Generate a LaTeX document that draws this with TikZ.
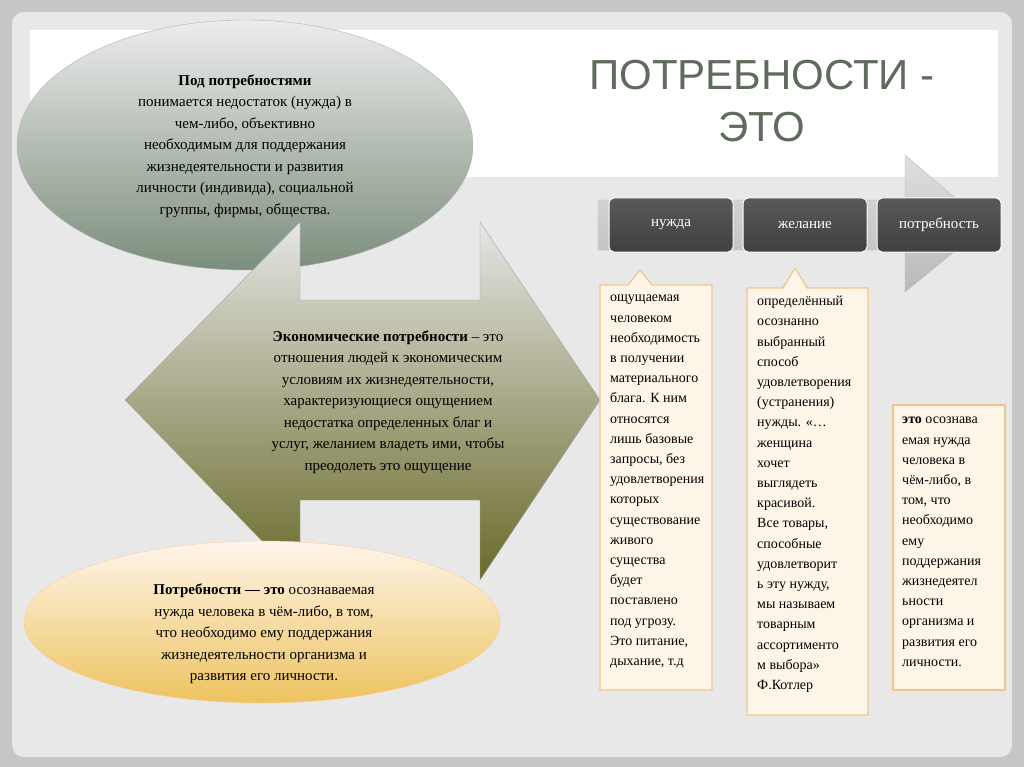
\documentclass[tikz,border=0pt]{standalone}
\usepackage{fontspec}
\setmainfont{Liberation Serif}
\newfontfamily\titlefont{Liberation Sans}
\usetikzlibrary{shapes.geometric}
\definecolor{ttl}{HTML}{5F6B5C}
\definecolor{cream}{HTML}{FDF6E8}
\definecolor{cbord}{HTML}{EFC68A}
\tikzset{x=1pt,y=-1pt,
 callout/.style={fill=cream,draw=cbord,line width=1.2pt},
 darkbox/.style={rounded corners=5pt,draw=white,line width=1pt,top color=gray!70!black,bottom color=black!75,minimum width=124pt,minimum height=54pt,text=white,font=\fontsize{15}{18}\selectfont},
 ctext/.style={align=left,anchor=north west,font=\fontsize{14}{20.2}\selectfont,inner sep=0pt}}
\begin{document}
\begin{tikzpicture}
\useasboundingbox (0,0) rectangle (1024,767);
\fill[gray!45] (0,0) rectangle (1024,767);
\fill[rounded corners=12pt,gray!18] (12,12) rectangle (1012,757);
\fill[white] (30,30) rectangle (998,177);
\node[font=\titlefont\fontsize{42}{52}\selectfont,text=ttl,align=center] (title) at (762,101) {ПОТРЕБНОСТИ -\\ЭТО};
% top ellipse
\node[ellipse,minimum width=456pt,minimum height=250pt,draw=gray!60,top color=gray!15,bottom color=gray!70!green!40!black!60,inner sep=0pt] (e1) at (245,145) {};
\node[align=center,font=\fontsize{15}{21.5}\selectfont] (t1) at (245,146) {\textbf{Под потребностями}\\понимается недостаток (нужда) в\\чем-либо, объективно\\необходимым для поддержания\\жизнедеятельности и развития\\личности (индивида), социальной\\группы, фирмы, общества.};
% double arrow
\path[draw=gray!70,top color=gray!20,bottom color=gray!60!olive!70!black!90,shading angle=0]
 (125,400) -- (300,222) -- (300,300) -- (480,300) -- (480,222) -- (600,400) -- (480,580) -- (480,500) -- (300,500) -- (300,580) -- cycle;
\node[align=center,font=\fontsize{15}{21.5}\selectfont] (t2) at (388,402) {\textbf{Экономические потребности} -- это\\отношения людей к экономическим\\условиям их жизнедеятельности,\\характеризующиеся ощущением\\недостатка определенных благ и\\услуг, желанием владеть ими, чтобы\\преодолеть это ощущение};
% bottom ellipse
\node[ellipse,minimum width=476pt,minimum height=162pt,draw=orange!40,top color=orange!8,bottom color=orange!45!yellow!60!brown!70,inner sep=0pt] (e2) at (262,622) {};
\node[align=center,font=\fontsize{15}{21.5}\selectfont] (t3) at (264,634) {\textbf{Потребности — это} осознаваемая\\нужда человека в чём-либо, в том,\\что необходимо ему поддержания\\жизнедеятельности организма и\\развития его личности.};
% chevron arrow
\path[top color=gray!25,bottom color=gray!55,draw=gray!50] (598,200) -- (905,200) -- (905,155) -- (987,225) -- (905,292) -- (905,250) -- (598,250) -- cycle;
\node[darkbox] (n1) at (671,225) {нужда};
\node[darkbox] (n2) at (805,225) {желание};
\node[darkbox] (n3) at (939,225) {потребность};
% callouts
\draw[callout] (600,285) -- (628,285) -- (640,270) -- (652,285) -- (712,285) -- (712,690) -- (600,690) -- cycle;
\node[ctext] (c1) at (610,295) {ощущаемая\\человеком\\необходимость\\в получении\\материального\\блага. К ним\\относятся\\лишь базовые\\запросы, без\\удовлетворения\\которых\\существование\\живого\\существа\\будет\\поставлено\\под угрозу.\\Это питание,\\дыхание, т.д};
\draw[callout] (747,288) -- (783,288) -- (795,268) -- (807,288) -- (868,288) -- (868,715) -- (747,715) -- cycle;
\node[ctext] (c2) at (757,296) {определённый\\осознанно\\выбранный\\способ\\удовлетворения\\(устранения)\\нужды. «…\\женщина\\хочет\\выглядеть\\красивой.\\Все товары,\\способные\\удовлетворит\\ь эту нужду,\\мы называем\\товарным\\ассортименто\\м выбора»\\Ф.Котлер};
\draw[callout] (893,405) rectangle (1005,690);
\node[ctext] (c3) at (902,417) {\textbf{это} осознава\\емая нужда\\человека в\\чём-либо, в\\том, что\\необходимо\\ему\\поддержания\\жизнедеятел\\ьности\\организма и\\развития его\\личности.};
\end{tikzpicture}
\end{document}
